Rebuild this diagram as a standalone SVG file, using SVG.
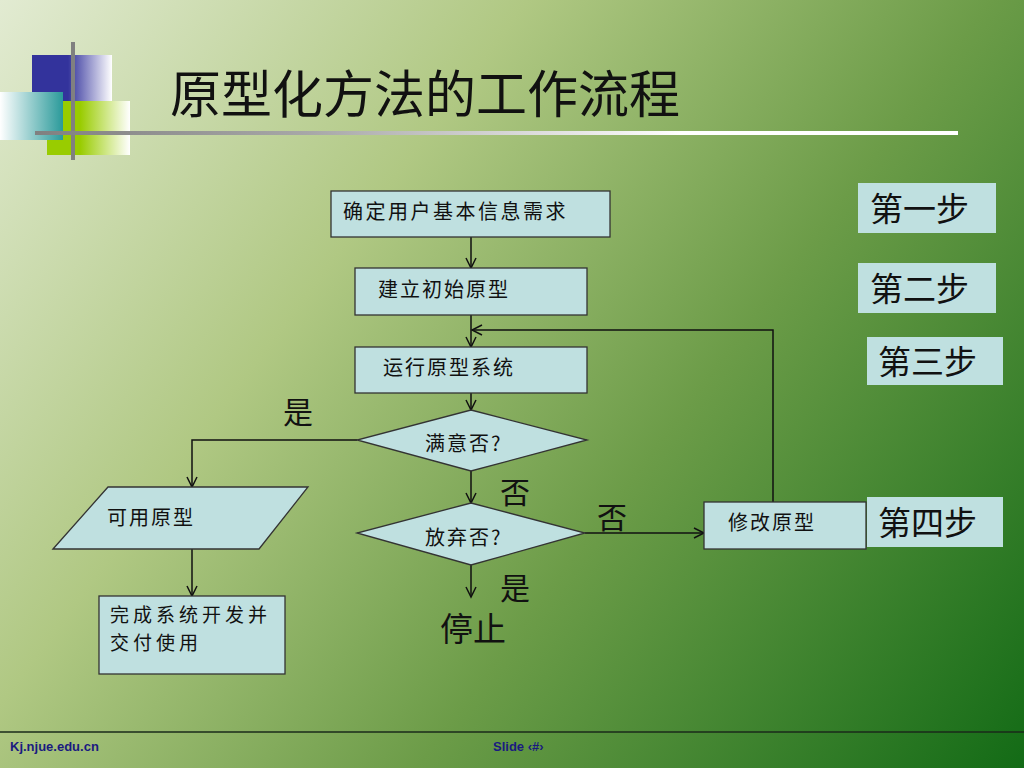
<svg xmlns="http://www.w3.org/2000/svg" width="1024" height="768" viewBox="0 0 1024 768">
<defs>
<linearGradient id="bg" x1="0" y1="0" x2="1024" y2="768" gradientUnits="userSpaceOnUse">
<stop offset="0" stop-color="#e2ebd2"/>
<stop offset="0.33" stop-color="#b0c883"/>
<stop offset="0.62" stop-color="#6c9c48"/>
<stop offset="1" stop-color="#136b16"/>
</linearGradient>
<linearGradient id="gBlue" x1="0" y1="0" x2="1" y2="0">
<stop offset="0" stop-color="#33339c"/>
<stop offset="0.45" stop-color="#33339c"/>
<stop offset="1" stop-color="#ffffff"/>
</linearGradient>
<linearGradient id="gTeal" x1="0" y1="0" x2="1" y2="0">
<stop offset="0" stop-color="#ffffff"/>
<stop offset="1" stop-color="#2a9a9a"/>
</linearGradient>
<linearGradient id="gLime" x1="0" y1="0" x2="1" y2="0">
<stop offset="0" stop-color="#99cc00"/>
<stop offset="0.4" stop-color="#99cc00"/>
<stop offset="1" stop-color="#ffffff"/>
</linearGradient>
<linearGradient id="gLine" x1="35" y1="0" x2="958" y2="0" gradientUnits="userSpaceOnUse">
<stop offset="0" stop-color="#808080"/>
<stop offset="0.3" stop-color="#a8a8a8"/>
<stop offset="0.7" stop-color="#ffffff"/>
<stop offset="1" stop-color="#ffffff"/>
</linearGradient>
<marker id="arr" markerWidth="14" markerHeight="14" refX="12" refY="7" orient="auto" markerUnits="userSpaceOnUse">
<polyline points="2,2 12,7 2,12" fill="none" stroke="#111" stroke-width="1.5"/>
</marker>
</defs>
<style>
.box{fill:#bfe0e0;stroke:#333;stroke-width:1.3}
.step{fill:#bfe0e0;stroke:none}
.t{font-family:"Noto Sans CJK SC","Noto Sans",sans-serif;fill:#111}
.s{font-size:20px;letter-spacing:2px}
.l{font-size:33px}
.c{fill:none;stroke:#111;stroke-width:1.5}
.f{font-family:"Liberation Sans",Arial,sans-serif;font-weight:bold;font-size:13px;fill:#1a1a80}
</style>
<rect width="1024" height="768" fill="url(#bg)"/>
<g id="decor">
<rect x="32" y="55" width="80" height="47" fill="url(#gBlue)"/>
<rect x="47" y="101" width="83" height="54" fill="url(#gLime)"/>
<rect x="0" y="92" width="63" height="48" fill="url(#gTeal)"/>
<rect x="71" y="42" width="4" height="118" fill="#808080"/>
<rect x="35" y="131" width="923" height="4" fill="url(#gLine)"/>
</g>
<text class="t" x="170" y="113" font-size="51">原型化方法的工作流程</text>
<g id="connectors">
<line class="c" x1="471" y1="237" x2="471" y2="268" marker-end="url(#arr)"/>
<line class="c" x1="471" y1="315" x2="471" y2="347" marker-end="url(#arr)"/>
<line class="c" x1="471" y1="393" x2="471" y2="410" marker-end="url(#arr)"/>
<line class="c" x1="471" y1="471" x2="471" y2="503" marker-end="url(#arr)"/>
<line class="c" x1="471" y1="565" x2="471" y2="597" marker-end="url(#arr)"/>
<polyline class="c" points="357,440 192,440 192,487" marker-end="url(#arr)"/>
<line class="c" x1="192" y1="549" x2="192" y2="596" marker-end="url(#arr)"/>
<line class="c" x1="585" y1="533" x2="704" y2="533" marker-end="url(#arr)"/>
<polyline class="c" points="773,502 773,330 472,330" marker-end="url(#arr)"/>
</g>
<g id="n1"><rect class="box" x="331" y="191" width="279" height="46"/><text class="t s" x="343" y="219" style="letter-spacing:2.5px">确定用户基本信息需求</text></g>
<g id="n2"><rect class="box" x="355" y="268" width="232" height="47"/><text class="t s" x="378" y="297">建立初始原型</text></g>
<g id="n3"><rect class="box" x="355" y="347" width="232" height="46"/><text class="t s" x="383" y="375">运行原型系统</text></g>
<g id="d1"><polygon class="box" points="471,410 587,440 471,471 357,440"/><text class="t s" x="425" y="451">满意否?</text></g>
<g id="d2"><polygon class="box" points="471,503 585,533 471,565 357,533"/><text class="t s" x="425" y="545">放弃否?</text></g>
<g id="n4"><polygon class="box" points="53,549 108,487 308,487 259,549"/><text class="t s" x="107" y="525">可用原型</text></g>
<g id="n5"><rect class="box" x="99" y="596" width="186" height="78"/><text class="t" x="110" y="622" font-size="19" letter-spacing="4">完成系统开发并</text><text class="t" x="110" y="650" font-size="19" letter-spacing="4">交付使用</text></g>
<g id="n6"><rect class="box" x="704" y="502" width="162" height="47"/><text class="t s" x="728" y="530">修改原型</text></g>
<g id="s1"><rect class="step" x="858" y="183" width="138" height="50"/><text class="t l" x="870" y="221">第一步</text></g>
<g id="s2"><rect class="step" x="858" y="263" width="138" height="50"/><text class="t l" x="870" y="301">第二步</text></g>
<g id="s3"><rect class="step" x="867" y="337" width="136" height="48"/><text class="t l" x="878" y="374">第三步</text></g>
<g id="s4"><rect class="step" x="867" y="497" width="136" height="50"/><text class="t l" x="878" y="535">第四步</text></g>
<text class="t" x="283" y="423" font-size="30">是</text>
<text class="t" x="500" y="503" font-size="30">否</text>
<text class="t" x="597" y="528" font-size="30">否</text>
<text class="t" x="500" y="599" font-size="30">是</text>
<text class="t" x="440" y="641" font-size="33">停止</text>
<g id="footer">
<line x1="0" y1="732" x2="1024" y2="732" stroke="#1a2a1a" stroke-width="1.5"/>
<text class="f" x="10" y="751">Kj.njue.edu.cn</text>
<text class="f" x="493" y="751">Slide ‹#›</text>
</g>
</svg>
